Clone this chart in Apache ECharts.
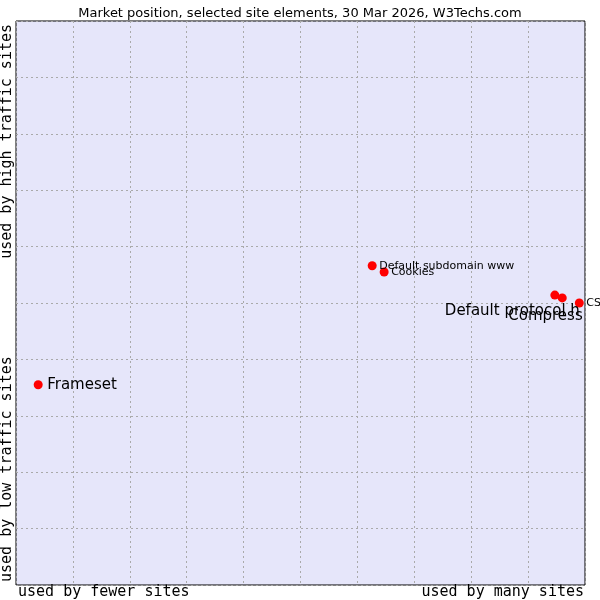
<!DOCTYPE html>
<html>
<head>
<meta charset="utf-8">
<script src="https://cdn.jsdelivr.net/npm/echarts@6/dist/echarts.min.js"></script>
<style>html,body{margin:0;padding:0;background:#fff}#chart{width:600px;height:600px}</style>
</head>
<body>
<div id="chart"></div>
<script>
// Data
var names = ['Frameset', 'Default subdomain www', 'Cookies', 'Default protocol https', 'Compression', 'CSS'];
var xValues = [3.9, 62.6, 64.7, 94.7, 96.0, 99.0];
var yValues = [35.5, 56.6, 55.5, 51.4, 50.9, 50.0];
var bigLabel = [true, false, false, true, true, false];
var labelOffsets = [[9, 0], [7, 0], [7, 0], [-110, 16], [-54, 18], [7, 0]];
var labelWidths = [null, null, null, 140, 77, null];

var chart = echarts.init(document.getElementById('chart'));

var points = names.map(function(n, i) {
    var label = {
        show: true,
        formatter: n,
        position: 'inside',
        align: 'left',
        verticalAlign: 'middle',
        offset: labelOffsets[i],
        fontSize: bigLabel[i] ? 15 : 11,
        color: '#000',
        textBorderWidth: 0,
        fontFamily: 'DejaVu Sans'
    };
    if (labelWidths[i]) {
        label.width = labelWidths[i];
        label.overflow = 'truncate';
        label.ellipsis = '';
    }
    return { name: n, value: [xValues[i], yValues[i]], label: label };
});

var mono = '15px "DejaVu Sans Mono"';

chart.setOption({
    animation: false,
    textStyle: { fontFamily: 'DejaVu Sans' },
    title: {
        text: 'Market position, selected site elements, 30 Mar 2026, W3Techs.com',
        left: 'center', top: 2,
        textStyle: { fontSize: 13, fontWeight: 'normal', color: '#000' }
    },
    grid: { left: 16, right: 15, top: 21, bottom: 15, show: true, backgroundColor: '#e6e6fa', borderColor: '#000', borderWidth: 1 },
    xAxis: {
        type: 'value', min: 0, max: 100, interval: 10,
        axisLabel: { show: false }, axisTick: { show: false },
        axisLine: { show: false },
        splitLine: { lineStyle: { color: '#aaa', type: [2, 3] } }
    },
    yAxis: {
        type: 'value', min: 0, max: 100, interval: 10,
        axisLabel: { show: false }, axisTick: { show: false },
        axisLine: { show: false },
        splitLine: { lineStyle: { color: '#aaa', type: [2, 3] } }
    },
    series: [{
        type: 'scatter',
        symbol: 'circle',
        symbolSize: 9,
        itemStyle: { color: '#ff0000', opacity: 1 },
        data: points,
        z: 5
    }],
    graphic: [
        { type: 'text', z: 101, left: 18, top: 585, style: { text: 'used by fewer sites', font: mono, fill: '#000' } },
        { type: 'text', z: 101, right: 16, top: 585, style: { text: 'used by many sites', font: mono, fill: '#000' } },
        { type: 'text', z: 101, left: 0, bottom: 18, rotation: Math.PI / 2, style: { text: 'used by low traffic sites', font: mono, fill: '#000' } },
        { type: 'text', z: 101, left: 0, top: 24, rotation: Math.PI / 2, style: { text: 'used by high traffic sites', font: mono, fill: '#000' } }
    ]
});
</script>
</body>
</html>
